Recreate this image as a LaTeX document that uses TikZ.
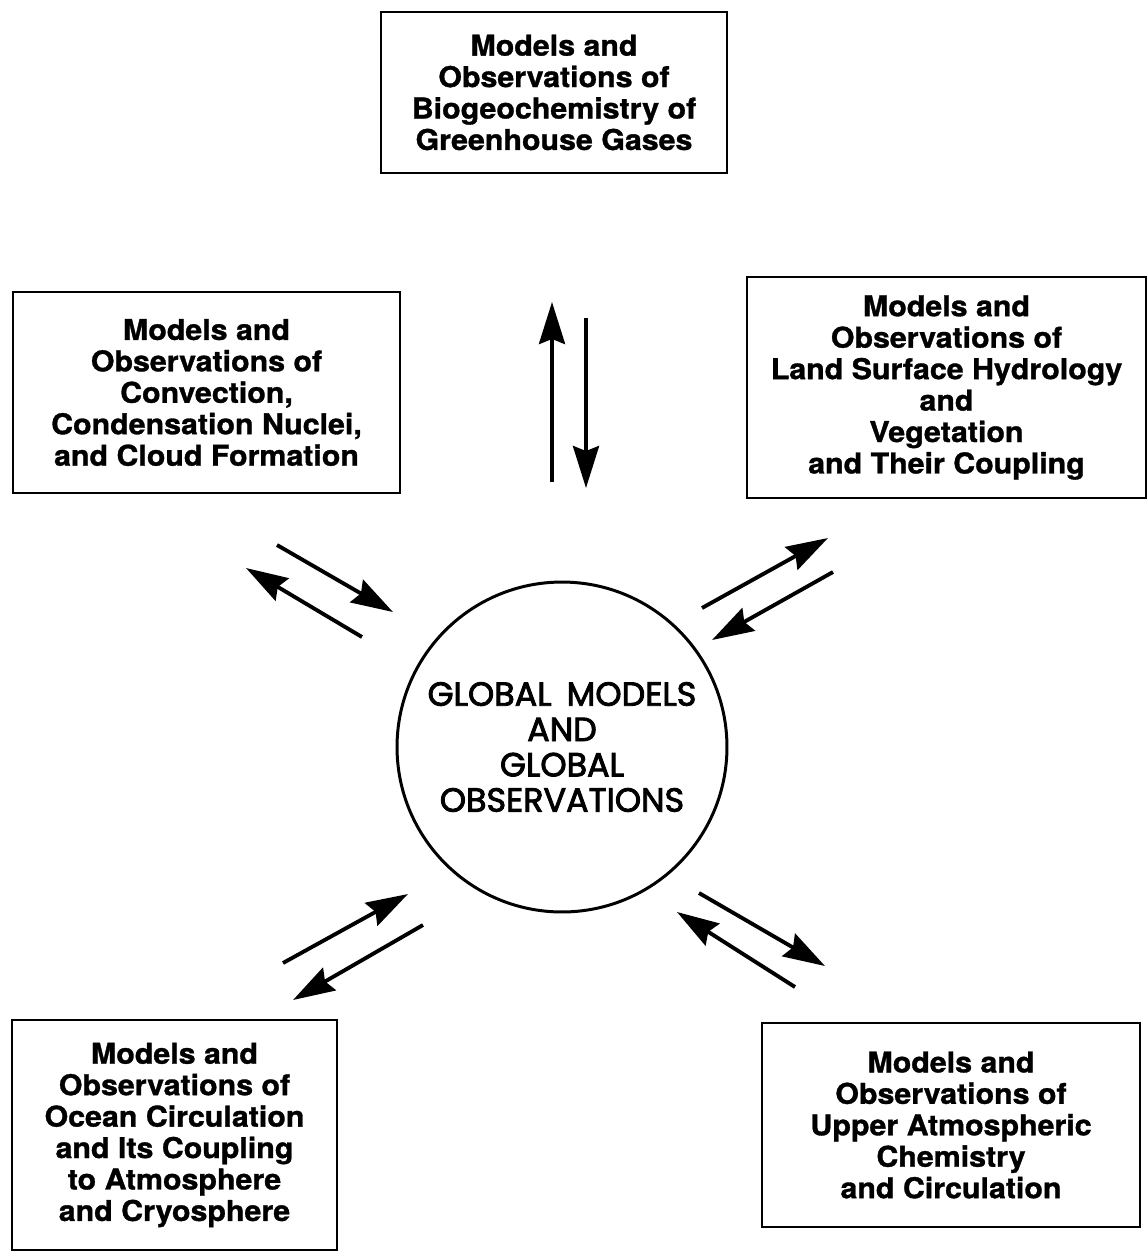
\documentclass[tikz,border=0pt]{standalone}
\usepackage{fontspec}
\newfontfamily\boxfont{TeX Gyre Heros}[FakeStretch=1.06, FakeBold=1.1]
\newfontfamily\globefont{Poppins}[FakeBold=2.6]
\usetikzlibrary{arrows.meta}

\begin{document}
\begin{tikzpicture}[
        x=0.02cm, y=-0.02cm,
        panel/.style={rectangle, draw, line width=1.1pt, align=center, inner sep=0pt,
            font=\boxfont\bfseries\fontsize{16.3}{17.9}\selectfont},
        globe/.style={circle, draw, line width=1.7pt, minimum size=6.6cm, align=center, inner sep=0pt,
            font=\globefont\fontsize{19}{20.1}\selectfont},
        arrow/.style={-{Stealth[length=0.84cm, width=0.52cm, inset=0.1cm]}, line width=2.2pt}
    ]
        \useasboundingbox (0,0) rectangle (1148,1259);

        % centre
        \node[globe] (global) at (562,747) {GLOBAL\hspace{0.45em}MODELS\\AND\\GLOBAL\\OBSERVATIONS};

        % surrounding boxes
        \node[panel, minimum width=6.92cm, minimum height=3.22cm] (biogeo) at (554,92.5)
            {Models and\\Observations of\\Biogeochemistry of\\Greenhouse Gases};
        \node[panel, minimum width=7.74cm, minimum height=4.02cm] (cloud) at (206.5,392.5)
            {Models and\\Observations of\\Convection,\\Condensation Nuclei,\\and Cloud Formation};
        \node[panel, minimum width=7.98cm, minimum height=4.42cm] (land) at (946.5,387.5)
            {Models and\\Observations of\\Land Surface Hydrology\\and\\Vegetation\\and Their Coupling};
        \node[panel, minimum width=6.5cm, minimum height=4.6cm] (ocean) at (174.5,1135)
            {Models and\\Observations of\\Ocean Circulation\\and Its Coupling\\to Atmosphere\\and Cryosphere};
        \node[panel, minimum width=7.56cm, minimum height=4.08cm] (upper) at (951,1125)
            {Models and\\Observations of\\Upper Atmospheric\\Chemistry\\and Circulation};

        % arrow ends
        \coordinate (bg1) at (552,482);  \coordinate (bg2) at (552,302);
        \coordinate (bg3) at (586,318);  \coordinate (bg4) at (586,488);
        \coordinate (cl1) at (277,545);  \coordinate (cl2) at (393,612);
        \coordinate (cl3) at (362,637);  \coordinate (cl4) at (246,568);
        \coordinate (la1) at (702,608);  \coordinate (la2) at (828,538);
        \coordinate (la3) at (833,572);  \coordinate (la4) at (712,640);
        \coordinate (oc1) at (283,963);  \coordinate (oc2) at (408,894);
        \coordinate (oc3) at (423,925);  \coordinate (oc4) at (293,1000);
        \coordinate (up1) at (699,893);  \coordinate (up2) at (825,966);
        \coordinate (up3) at (795,987);  \coordinate (up4) at (677,912);

        % exchange arrows
        \draw[arrow] (bg1) -- (bg2);
        \draw[arrow] (bg3) -- (bg4);
        \draw[arrow] (cl1) -- (cl2);
        \draw[arrow] (cl3) -- (cl4);
        \draw[arrow] (la1) -- (la2);
        \draw[arrow] (la3) -- (la4);
        \draw[arrow] (oc1) -- (oc2);
        \draw[arrow] (oc3) -- (oc4);
        \draw[arrow] (up1) -- (up2);
        \draw[arrow] (up3) -- (up4);
    \end{tikzpicture}
\end{document}
